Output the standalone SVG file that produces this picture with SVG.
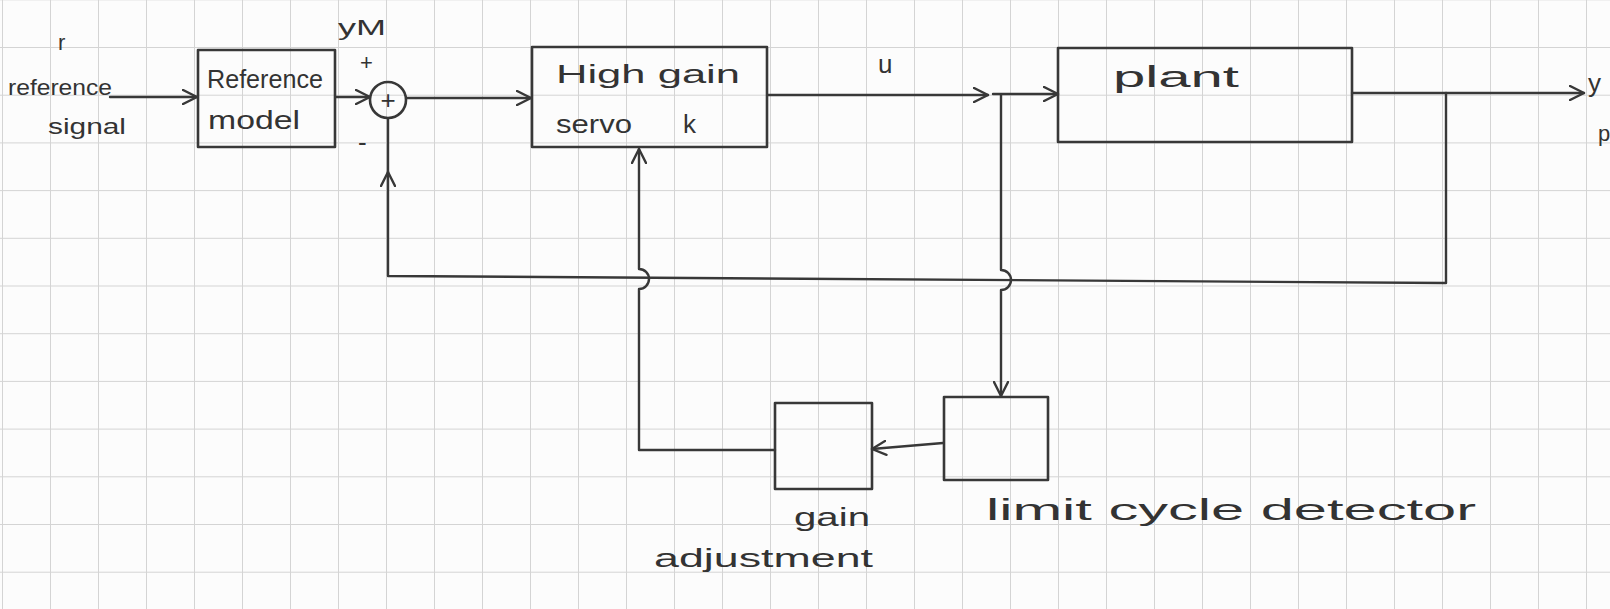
<svg xmlns="http://www.w3.org/2000/svg" width="1610" height="609" viewBox="0 0 1610 609">
<style>
.box{fill:none;stroke:#383838;stroke-width:2.6;stroke-linejoin:round}
.wire{fill:none;stroke:#383838;stroke-width:2.4;stroke-linecap:round;stroke-linejoin:round}
.t{font-family:"Liberation Sans",Arial,sans-serif;font-size:26px;fill:#333}
.s{font-size:22px}
.l{font-size:30px}
</style>
<defs>
<pattern id="grid" patternUnits="userSpaceOnUse" x="2" y="-0.7" width="48" height="47.7">
<path d="M0 0 H48 M0 0 V47.7" fill="none" stroke="#d4d4d4" stroke-width="2"/>
</pattern>
<marker id="arr" markerUnits="userSpaceOnUse" markerWidth="18" markerHeight="16" refX="15" refY="8" orient="auto">
<path d="M1 1 L15 8 L1 15" fill="none" stroke="#383838" stroke-width="2.4" stroke-linecap="round" stroke-linejoin="round"/>
</marker>
</defs>
<rect width="1610" height="609" fill="#fcfcfc"/>
<rect width="1610" height="609" fill="url(#grid)"/>

<g id="connectors">
<path class="wire" d="M110 97 H197" marker-end="url(#arr)"/>
<path class="wire" d="M336 97 H370" marker-end="url(#arr)"/>
<path class="wire" d="M407 98 H531" marker-end="url(#arr)"/>
<path class="wire" d="M768 95 H988" marker-end="url(#arr)"/>
<path class="wire" d="M993 94 H1058" marker-end="url(#arr)"/>
<path class="wire" d="M1352 93 H1584" marker-end="url(#arr)"/>
<path class="wire" d="M1446 93 V283 L388 276 V172" marker-end="url(#arr)"/>
<path class="wire" d="M388 172 V119"/>
<path class="wire" d="M1001 95 V270 a10 10 0 0 1 0 20 V396" marker-end="url(#arr)"/>
<path class="wire" d="M943 443 L872 449" marker-end="url(#arr)"/>
<path class="wire" d="M775 450 H639 V289 a10 10 0 0 0 0 -20 V149" marker-end="url(#arr)"/>
</g>

<g id="reference-signal">
<text class="t s" x="58" y="50">r</text>
<text class="t s" x="8" y="95" textLength="104" lengthAdjust="spacingAndGlyphs">reference</text>
<text class="t s" x="48" y="134" textLength="78" lengthAdjust="spacingAndGlyphs">signal</text>
</g>

<g id="reference-model">
<rect class="box" x="198" y="50" width="137" height="97"/>
<text class="t" x="207" y="88" textLength="116" lengthAdjust="spacingAndGlyphs">Reference</text>
<text class="t" x="208" y="129" textLength="92" lengthAdjust="spacingAndGlyphs">model</text>
</g>

<g id="sum">
<circle class="box" cx="388" cy="100" r="18"/>
<text class="t" x="388" y="109" text-anchor="middle">+</text>
<text class="t s" x="338" y="35" textLength="48" lengthAdjust="spacingAndGlyphs">yM</text>
<text class="t s" x="360" y="70">+</text>
<text class="t" x="358" y="151">-</text>
</g>

<g id="high-gain-servo">
<rect class="box" x="532" y="47" width="235" height="100"/>
<text class="t" x="556" y="83" textLength="184" lengthAdjust="spacingAndGlyphs">High gain</text>
<text class="t" x="556" y="133" textLength="76" lengthAdjust="spacingAndGlyphs">servo</text>
<text class="t" x="683" y="133">k</text>
<text class="t" x="878" y="73">u</text>
</g>

<g id="plant">
<rect class="box" x="1058" y="48" width="294" height="94"/>
<text class="t l" x="1113" y="87" textLength="126" lengthAdjust="spacingAndGlyphs">plant</text>
<text class="t" x="1588" y="92">y</text>
<text class="t s" x="1598" y="141">p</text>
</g>

<g id="limit-cycle-detector">
<rect class="box" x="944" y="397" width="104" height="83"/>
<text class="t l" x="986" y="520" textLength="490" lengthAdjust="spacingAndGlyphs">limit cycle detector</text>
</g>

<g id="gain-adjustment">
<rect class="box" x="775" y="403" width="97" height="86"/>
<text class="t" x="794" y="526" textLength="76" lengthAdjust="spacingAndGlyphs">gain</text>
<text class="t" x="654" y="567" textLength="219" lengthAdjust="spacingAndGlyphs">adjustment</text>
</g>
</svg>
